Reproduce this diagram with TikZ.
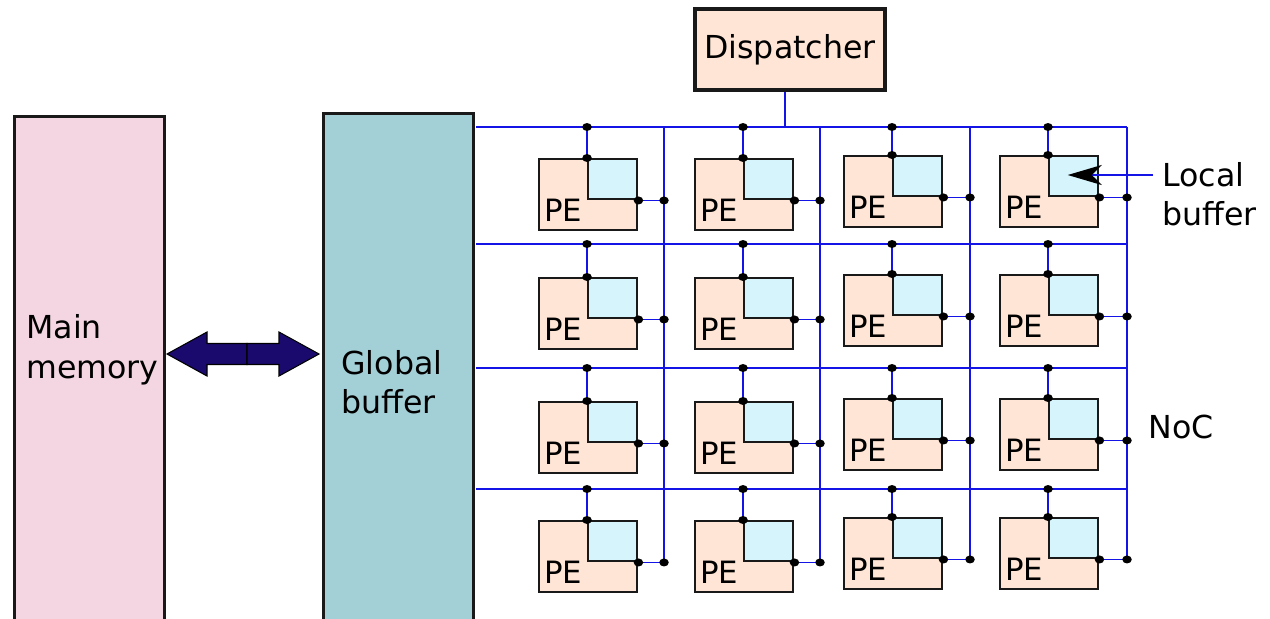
\documentclass[tikz,border=0pt]{standalone}
\usepackage{fontspec}
\setmainfont{DejaVu Sans}
\usepackage{xcolor}
\usetikzlibrary{arrows.meta}

\definecolor{memfill}{HTML}{F3D6E2}
\definecolor{gbfill}{HTML}{A3CFD6}
\definecolor{pefill}{HTML}{FFE5D5}
\definecolor{lbfill}{HTML}{D5F4FB}
\definecolor{busblue}{HTML}{1414E6}
\definecolor{navy}{HTML}{1A0A6E}

\tikzset{
  bigbox/.style={draw=black!90, line width=1.8pt, inner sep=0pt},
  pebox/.style={draw=black!90, fill=pefill, line width=1.4pt, inner sep=0pt,
    minimum width=19.6mm, minimum height=14.2mm, anchor=north west},
  lbbox/.style={draw=black!90, fill=lbfill, line width=1.4pt, inner sep=0pt,
    minimum width=9.8mm, minimum height=8mm, anchor=north east},
  bus/.style={draw=busblue, line width=1.1pt},
  txt/.style={font=\fontsize{18}{22.5}\selectfont, inner sep=0pt, align=left},
  petxt/.style={font=\fontsize{17.5}{20}\selectfont, inner sep=0pt, anchor=base west},
}

\begin{document}
\begin{tikzpicture}[x=0.2mm, y=-0.2mm]
    \useasboundingbox (0,0) rectangle (1270,618);

    % memories
    \node[bigbox, fill=memfill, minimum width=30mm, minimum height=105mm, anchor=north west] (mem) at (13,115) {};
    \node[txt, anchor=west] (memtxt) at (26,350) {Main\\memory};
    \node[bigbox, fill=gbfill, minimum width=30mm, minimum height=105mm, anchor=north west] (gb) at (322,112) {};
    \node[txt, anchor=west] (gbtxt) at (341,382) {Global\\buffer};

    % double arrow between them
    \fill[navy, draw=black, line width=0.6pt] (247,343.5) -- (207,343.5) -- (207,332) -- (167,354)
        -- (207,376) -- (207,364.5) -- (247,364.5) -- cycle;
    \fill[navy, draw=black, line width=0.6pt] (247,343.5) -- (279,343.5) -- (279,332) -- (319,354)
        -- (279,376) -- (279,364.5) -- (247,364.5) -- cycle;

    \node[bigbox, fill=pefill, minimum width=38mm, minimum height=16.2mm, font=\fontsize{18}{22.5}\selectfont] (disp) at (790,49.5) {Dispatcher};

    % NoC
    \foreach \row/\hy in {1/127,2/244,3/368,4/489}
        \coordinate (h\row) at (476,\hy);
    \foreach \col/\vx in {1/664,2/820,3/970,4/1127}
        \coordinate (v\col) at (\vx,127);

    \foreach \row/\ty in {1/158,2/277,3/401,4/520}
      \foreach \col/\px/\dy in {1/538/0,2/694/0,3/843/-3,4/999/-3} {
        \node[pebox] (pe-\row-\col) at (\px,{\ty+\dy}) {};
        \node[lbbox] (lb-\row-\col) at (pe-\row-\col.north east) {};
        \node[petxt] (pt-\row-\col) at ([shift={(6,-10)}]pe-\row-\col.south west) {PE};
      }

    \draw[bus] ([xshift=-1mm]disp.south) -- ([xshift=-1mm]disp.south |- h1);
    \foreach \row in {1,...,4}
        \draw[bus] (h\row) -- (h\row -| v4);
    \foreach \col in {1,...,4}
        \draw[bus] (v\col) -- (v\col |- lb-4-\col.south east);

    \foreach \row in {1,...,4}
      \foreach \col in {1,...,4} {
        \draw[bus] (lb-\row-\col.north west |- h\row) -- (lb-\row-\col.north west);
        \draw[bus] (lb-\row-\col.south east) -- (lb-\row-\col.south east -| v\col);
        \fill (lb-\row-\col.north west |- h\row) ellipse [x radius=0.95mm, y radius=0.8mm];
        \fill (lb-\row-\col.north west) ellipse [x radius=0.95mm, y radius=0.8mm];
        \fill (lb-\row-\col.south east) ellipse [x radius=0.95mm, y radius=0.8mm];
        \fill (lb-\row-\col.south east -| v\col) ellipse [x radius=0.95mm, y radius=0.8mm];
      }

    % labels
    \node[txt, anchor=west] (lbtxt) at (1162,194) {Local\\buffer};
    \coordinate (lbtail) at (1153,175);
    \draw[bus, -{Stealth[black, length=6.8mm, width=4mm, inset=2mm]}, shorten >=-1.2mm]
        (lbtail) -- (lbtail -| lb-1-4.center);
    \node[txt, anchor=west] (noc) at (1148,427) {NoC};
\end{tikzpicture}
\end{document}
